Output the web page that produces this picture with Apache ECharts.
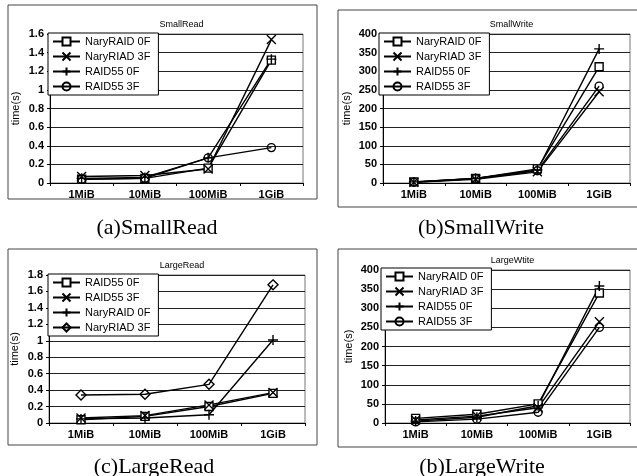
<!DOCTYPE html>
<html><head><meta charset="utf-8">
<script src="https://cdn.jsdelivr.net/npm/echarts@6/dist/echarts.min.js"></script>
<style>html,body{margin:0;padding:0;background:#fff}#c{width:637px;height:476px}</style>
</head><body><div id="c"></div>
<script>
const categories = ['1MiB','10MiB','100MiB','1GiB'];

// (a) SmallRead
const srNames = ['NaryRAID 0F','NaryRIAD 3F','RAID55 0F','RAID55 3F'];
const srNaryRaid0F = [0.04, 0.05, 0.16, 1.32];
const srNaryRiad3F = [0.07, 0.08, 0.15, 1.54];
const srRaid55_0F  = [0.05, 0.06, 0.27, 1.33];
const srRaid55_3F  = [0.04, 0.05, 0.27, 0.38];

// (b) SmallWrite
const swNames = ['NaryRAID 0F','NaryRIAD 3F','RAID55 0F','RAID55 3F'];
const swNaryRaid0F = [3, 12, 38, 312];
const swNaryRiad3F = [2, 10, 30, 245];
const swRaid55_0F  = [3, 12, 35, 360];
const swRaid55_3F  = [2, 12, 33, 260];

// (c) LargeRead
const lrNames = ['RAID55 0F','RAID55 3F','NaryRAID 0F','NaryRIAD 3F'];
const lrRaid55_0F  = [0.04, 0.08, 0.20, 0.36];
const lrRaid55_3F  = [0.06, 0.09, 0.22, 0.37];
const lrNaryRaid0F = [0.05, 0.06, 0.10, 1.01];
const lrNaryRiad3F = [0.34, 0.35, 0.47, 1.68];

// (d) LargeWtite
const lwNames = ['NaryRAID 0F','NaryRIAD 3F','RAID55 0F','RAID55 3F'];
const lwNaryRaid0F = [12, 23, 50, 340];
const lwNaryRiad3F = [8, 18, 40, 265];
const lwRaid55_0F  = [5, 15, 45, 358];
const lwRaid55_3F  = [3, 10, 28, 250];

const chartTitles = ['SmallRead','SmallWrite','LargeRead','LargeWtite'];
const captions = ['(a)SmallRead','(b)SmallWrite','(c)LargeRead','(b)LargeWrite'];
const yMax = [1.6, 400, 1.8, 400];
const yInt = [0.2, 50, 0.2, 50];

const FONT = '"Liberation Sans", Arial, sans-serif';
const SQ = 'rect';
const XS = 'path://M0,0L10,10M10,0L0,10';
const PL = 'path://M5,0L5,10M0,5L10,5';

const symDefs = {
  sq: {symbol: SQ, size: 8, fill: '#fff'},
  x:  {symbol: XS, size: 9, fill: 'rgba(0,0,0,0)'},
  pl: {symbol: PL, size: 10, fill: 'rgba(0,0,0,0)'},
  ci: {symbol: 'circle', size: 8, fill: 'rgba(0,0,0,0)'},
  di: {symbol: 'diamond', size: 10, fill: 'rgba(0,0,0,0)'}
};

const grids = [
  {left: 50, top: 34, width: 253, height: 149},
  {left: 383, top: 34, width: 247, height: 149},
  {left: 49, top: 275, width: 256, height: 148},
  {left: 385, top: 270, width: 245, height: 153}
];
const legendPos = [[48, 33], [379, 33], [48, 274], [381, 268]];
const captionPos = [[152, 212], [476, 212], [149, 451], [477, 451]];

const chartData = [
  {names: srNames, data: [srNaryRaid0F, srNaryRiad3F, srRaid55_0F, srRaid55_3F], syms: ['sq','x','pl','ci']},
  {names: swNames, data: [swNaryRaid0F, swNaryRiad3F, swRaid55_0F, swRaid55_3F], syms: ['sq','x','pl','ci']},
  {names: lrNames, data: [lrRaid55_0F, lrRaid55_3F, lrNaryRaid0F, lrNaryRiad3F], syms: ['sq','x','pl','di']},
  {names: lwNames, data: [lwNaryRaid0F, lwNaryRiad3F, lwRaid55_0F, lwRaid55_3F], syms: ['sq','x','pl','ci']}
];

const option = {
  animation: false,
  backgroundColor: '#fff',
  grid: grids.map(g => Object.assign({show: true, borderColor: '#777', borderWidth: 1, backgroundColor: 'transparent'}, g)),
  xAxis: grids.map((g, i) => ({
    type: 'category', gridIndex: i, data: categories, boundaryGap: true,
    axisLine: {lineStyle: {color: '#000', width: 1}},
    axisTick: {show: true, length: 3, lineStyle: {color: '#000'}},
    axisLabel: {color: '#000', fontFamily: FONT, fontSize: 11, fontWeight: 'bold', margin: 6},
    splitLine: {show: false}
  })),
  yAxis: grids.map((g, i) => ({
    type: 'value', gridIndex: i, min: 0, max: yMax[i], interval: yInt[i],
    name: 'time(s)', nameLocation: 'middle', nameGap: i % 2 === 0 ? 29 : 31,
    nameTextStyle: {color: '#000', fontFamily: FONT, fontSize: 11},
    axisLine: {show: true, lineStyle: {color: '#000', width: 1}},
    axisTick: {show: true, length: 3, lineStyle: {color: '#000'}},
    axisLabel: {color: '#000', fontFamily: FONT, fontSize: 11, fontWeight: 'bold', margin: 6},
    splitLine: {show: true, lineStyle: {color: '#222', width: 1}}
  })),
  title: chartTitles.map((t, i) => ({
    text: t, left: grids[i].left + grids[i].width / 2, top: grids[i].top - 19, textAlign: 'center',
    textStyle: {fontFamily: FONT, fontSize: 9, fontWeight: 'normal', color: '#000'}
  })).concat(captions.map((t, i) => ({
    text: t, left: captionPos[i][0], top: captionPos[i][1], textAlign: 'center',
    textStyle: {fontFamily: '"Liberation Serif", "DejaVu Serif", serif', fontSize: 22, fontWeight: 'normal', color: '#000'}
  }))),
  legend: chartData.map((c, i) => ({
    data: c.names.map(n => n + '#' + i),
    formatter: n => n.split('#')[0],
    orient: 'vertical', left: legendPos[i][0], top: legendPos[i][1],
    backgroundColor: '#fff', borderColor: '#000', borderWidth: 1, borderRadius: 0,
    padding: [3, 8, 3, 4], itemWidth: 27, itemHeight: 10, itemGap: 4,
    textStyle: {fontFamily: FONT, fontSize: 11, color: '#000'}
  })),
  graphic: [
    {type: 'rect', shape: {x: 8, y: 5, width: 309, height: 194}, style: {fill: 'none', stroke: '#444', lineWidth: 1}, z: -1},
    {type: 'rect', shape: {x: 338, y: 10, width: 310, height: 197}, style: {fill: 'none', stroke: '#444', lineWidth: 1}, z: -1},
    {type: 'rect', shape: {x: 8, y: 249, width: 309, height: 196}, style: {fill: 'none', stroke: '#444', lineWidth: 1}, z: -1},
    {type: 'rect', shape: {x: 338, y: 249, width: 310, height: 198}, style: {fill: 'none', stroke: '#444', lineWidth: 1}, z: -1}
  ],
  series: []
};

chartData.forEach((c, i) => {
  c.names.forEach((n, k) => {
    const s = symDefs[c.syms[k]];
    option.series.push({
      type: 'line', name: n + '#' + i, xAxisIndex: i, yAxisIndex: i,
      data: c.data[k], symbol: s.symbol, symbolSize: s.size, showAllSymbol: true,
      lineStyle: {color: '#000', width: 1.4},
      itemStyle: {color: s.fill, borderColor: '#000', borderWidth: 1.4},
      emphasis: {disabled: true}
    });
  });
});

const chart = echarts.init(document.getElementById('c'), null, {renderer: 'canvas'});
chart.setOption(option);
</script>
</body></html>
